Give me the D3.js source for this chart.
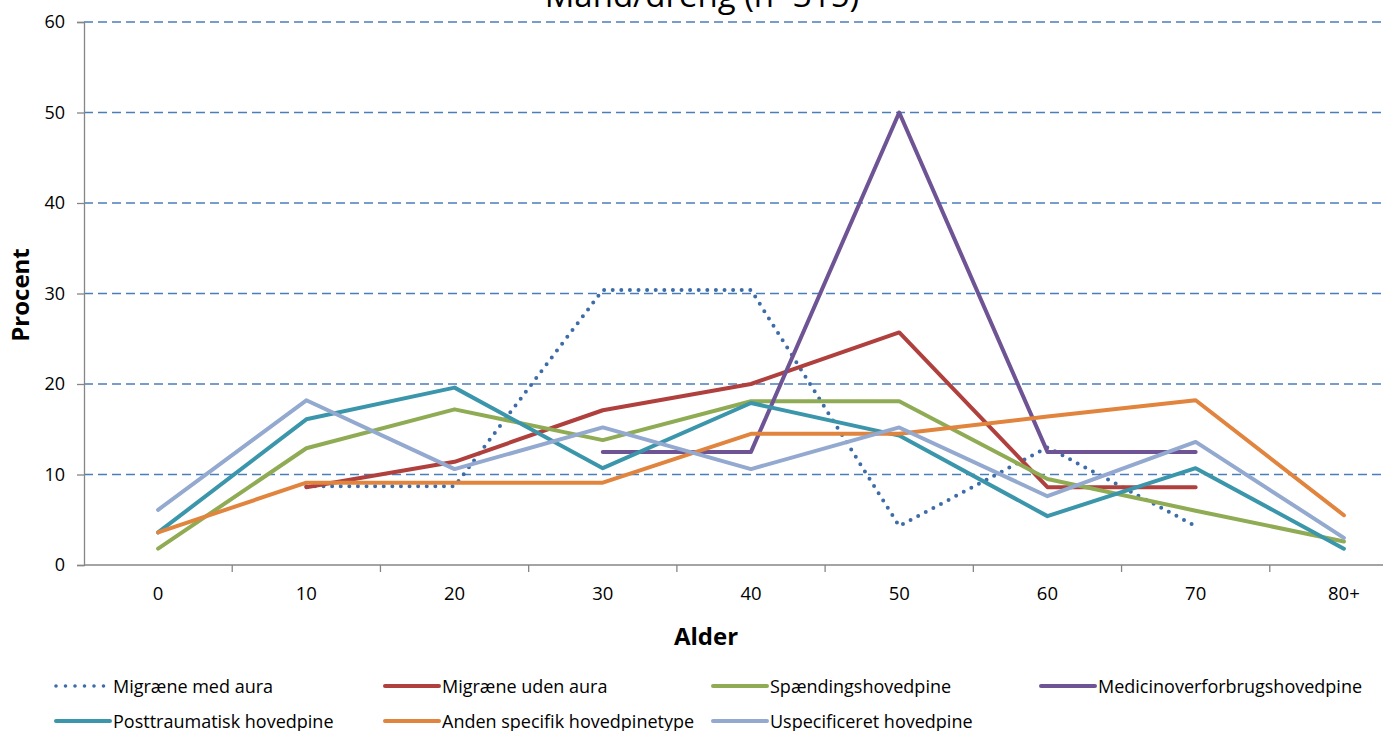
<!DOCTYPE html>
<html>
<head>
<meta charset="utf-8">
<script src="https://cdn.jsdelivr.net/npm/d3@7"></script>
<style>
  body { margin: 0; background: #fff; }
  text { font-family: "Open Sans", sans-serif; fill: #000; }
</style>
</head>
<body>
<div id="chart"></div>
<script>
const ages = ["0", "10", "20", "30", "40", "50", "60", "70", "80+"];
const yTicks = [0, 10, 20, 30, 40, 50, 60];

const migraeneMedAura = [null, 8.7, 8.7, 30.4, 30.4, 4.3, 13.0, 4.3, null];
const migraeneUdenAura = [null, 8.6, 11.4, 17.1, 20.0, 25.7, 8.6, 8.6, null];
const spaending = [1.8, 12.9, 17.2, 13.8, 18.1, 18.1, 9.5, 6.0, 2.6];
const medicinover = [null, null, null, 12.5, 12.5, 50.0, 12.5, 12.5, null];
const posttraumatisk = [3.6, 16.1, 19.6, 10.7, 17.9, 14.3, 5.4, 10.7, 1.8];
const andenSpecifik = [3.6, 9.1, 9.1, 9.1, 14.5, 14.5, 16.4, 18.2, 5.5];
const uspecificeret = [6.1, 18.2, 10.6, 15.2, 10.6, 15.2, 7.6, 13.6, 3.0];

const series = [
  { name: "Migræne med aura", values: migraeneMedAura, color: "#3E6CA8", dotted: true },
  { name: "Migræne uden aura", values: migraeneUdenAura, color: "#B0403D" },
  { name: "Spændingshovedpine", values: spaending, color: "#8FAC55" },
  { name: "Medicinoverforbrugshovedpine", values: medicinover, color: "#6E5494" },
  { name: "Posttraumatisk hovedpine", values: posttraumatisk, color: "#3B96AB" },
  { name: "Anden specifik hovedpinetype", values: andenSpecifik, color: "#E0843E" },
  { name: "Uspecificeret hovedpine", values: uspecificeret, color: "#93A9CF" }
];

const width = 1383, height = 731;
const mLeft = 84, mRight = 1418, mTop = 22, mBottom = 565;

const svg = d3.select("#chart").append("svg")
  .attr("width", width)
  .attr("height", height);

const x = d3.scaleBand().domain(ages).range([mLeft, mRight]);
const y = d3.scaleLinear().domain([0, 60]).range([mBottom, mTop]);

// gridlines
svg.append("g")
  .selectAll("line")
  .data(yTicks.filter(d => d > 0))
  .join("line")
  .attr("x1", mLeft).attr("x2", width)
  .attr("y1", d => y(d)).attr("y2", d => y(d))
  .attr("stroke", "#4A7EBB")
  .attr("stroke-width", 1.3)
  .attr("stroke-dasharray", "9,5");

// y axis
const yAxis = svg.append("g")
  .attr("transform", `translate(${mLeft},0)`)
  .call(d3.axisLeft(y).tickValues(yTicks).tickSize(7).tickPadding(12));
yAxis.select(".domain").attr("stroke", "#868686").attr("stroke-width", 1.3);
yAxis.selectAll(".tick line").attr("stroke", "#868686").attr("stroke-width", 1.3);
yAxis.selectAll("text").style("font-size", "18px").attr("fill", "#000");

// x axis with ticks between categories
const xAxisG = svg.append("g").attr("transform", `translate(0,${mBottom})`);
xAxisG.append("line")
  .attr("x1", mLeft).attr("x2", width)
  .attr("stroke", "#868686").attr("stroke-width", 1.3);
xAxisG.selectAll("line.tk")
  .data(ages)
  .join("line")
  .attr("class", "tk")
  .attr("x1", d => x(d) + x.bandwidth()).attr("x2", d => x(d) + x.bandwidth())
  .attr("y1", 0).attr("y2", 7)
  .attr("stroke", "#868686").attr("stroke-width", 1.3);
xAxisG.selectAll("text")
  .data(ages)
  .join("text")
  .attr("x", d => x(d) + x.bandwidth() / 2)
  .attr("y", 35)
  .attr("text-anchor", "middle")
  .style("font-size", "18.5px")
  .text(d => d);

// lines
const line = d3.line()
  .defined(d => d.v != null)
  .x(d => x(d.age) + x.bandwidth() / 2)
  .y(d => y(d.v));

series.forEach(s => {
  svg.append("path")
    .datum(ages.map((a, i) => ({ age: a, v: s.values[i] })))
    .attr("d", line)
    .attr("fill", "none")
    .attr("stroke", s.color)
    .attr("stroke-width", s.dotted ? 4 : 4)
    .attr("stroke-linecap", "round")
    .attr("stroke-linejoin", "round")
    .attr("stroke-dasharray", s.dotted ? "0,8.6" : null);
});

// title
svg.append("text")
  .attr("x", 702).attr("y", 7)
  .attr("text-anchor", "middle")
  .style("font-size", "33px")
  .text("Mand/dreng (n=315)");

// axis titles
svg.append("text")
  .attr("transform", "translate(29,295) rotate(-90)")
  .attr("text-anchor", "middle")
  .style("font-size", "24px")
  .style("font-weight", "bold")
  .text("Procent");

svg.append("text")
  .attr("x", 706).attr("y", 645)
  .attr("text-anchor", "middle")
  .style("font-size", "24px")
  .style("font-weight", "bold")
  .text("Alder");

// legend
const legendPos = [
  [56, 686], [385, 686], [713, 686], [1041, 686],
  [56, 721], [385, 721], [713, 721]
];
series.forEach((s, i) => {
  const [lx, ly] = legendPos[i];
  const g = svg.append("g").attr("transform", `translate(${lx},${ly})`);
  g.append("line")
    .attr("x1", 0).attr("x2", 54)
    .attr("stroke", s.color)
    .attr("stroke-width", s.dotted ? 3.6 : 4)
    .attr("stroke-linecap", "round")
    .attr("stroke-dasharray", s.dotted ? "0,9.5" : null);
  g.append("text")
    .attr("x", 57).attr("y", 6.5)
    .style("font-size", "18px")
    .text(s.name);
});
</script>
</body>
</html>
